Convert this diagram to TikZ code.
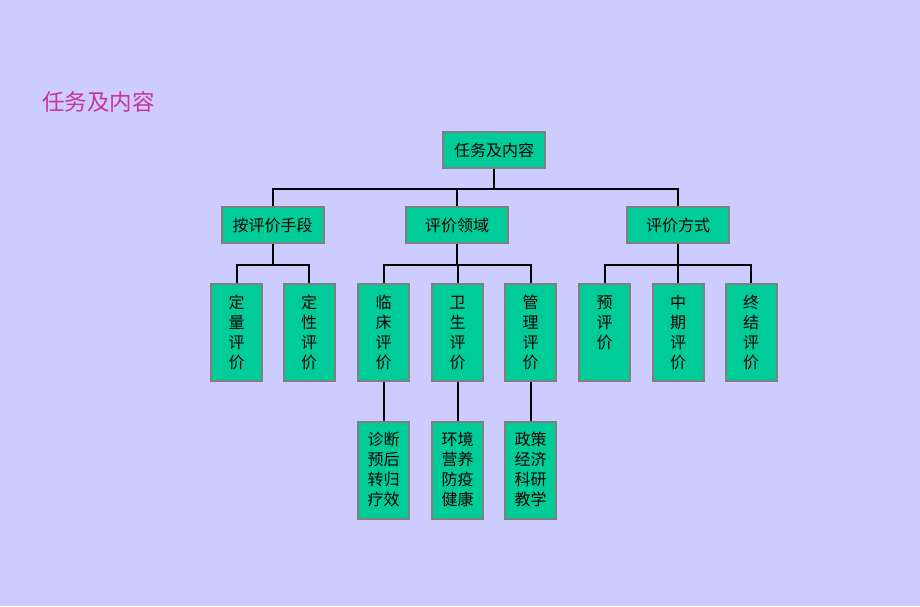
\documentclass[tikz,border=0pt]{standalone}
\usepackage{fontspec}
\setmainfont{Noto Sans CJK SC}
\usetikzlibrary{positioning}

\definecolor{bgblue}{HTML}{CCCCFF}
\definecolor{boxgreen}{HTML}{00CC99}
\definecolor{titlepink}{HTML}{CC3399}
\definecolor{boxrim}{HTML}{808080}

\begin{document}
\begin{tikzpicture}[x=1pt, y=-1pt, line width=2pt,
	box/.style={draw=boxrim, fill=boxgreen, inner sep=0pt, font=\fontsize{16}{20}\selectfont},
	wide/.style={box, minimum width=102pt, minimum height=36pt},
	tall/.style={box, anchor=north, text width=51pt, align=center, text height=24pt, text depth=73pt},
	leaf/.style={box, anchor=north, text width=51pt, align=center, text height=23pt, text depth=74pt},
	bus/.style={to path={-- ++(0,#1) -| (\tikztotarget)}}]

	\fill[bgblue] (0,0) rectangle (920,606);

	\node[anchor=west, inner sep=0pt, text=titlepink, font=\fontsize{22.5}{27}\selectfont]	(title)	at	(41, 102)	{任务及内容};

	\node[wide]	(task)	at	(494, 150)	{任务及内容};
	\node[wide]	(means)	at	(272.5, 225)	{按评价手段};
	\node[wide]	(field)	at	(457, 225)	{评价领域};
	\node[wide]	(mode)	at	(678, 225)	{评价方式};

	\node[tall]	(quant)	at	(236.5, 283)	{定\\量\\评\\价};
	\node[tall]	(qual)	at	(309, 283)	{定\\性\\评\\价};
	\node[tall]	(clin)	at	(383.5, 283)	{临\\床\\评\\价};
	\node[tall]	(hyg)	at	(457.5, 283)	{卫\\生\\评\\价};
	\node[tall]	(mgmt)	at	(530.5, 283)	{管\\理\\评\\价};
	\node[tall]	(pre)	at	(604.5, 283)	{预\\评\\价};
	\node[tall]	(mid)	at	(678, 283)	{中\\期\\评\\价};
	\node[tall]	(fin)	at	(751, 283)	{终\\结\\评\\价};

	\node[leaf]	(diag)	at	(383.5, 421)	{诊断\\预后\\转归\\疗效};
	\node[leaf]	(envi)	at	(457.5, 421)	{环境\\营养\\防疫\\健康};
	\node[leaf]	(poli)	at	(530.5, 421)	{政策\\经济\\科研\\教学};

	\path	(task.south)	edge[bus=20]	(means.north)
			(task.south)	edge[bus=20]	(field.north)
			(task.south)	edge[bus=20]	(mode.north)
			(means.south)	edge[bus=21]	(quant.north)
			(means.south)	edge[bus=21]	(qual.north)
			(field.south)	edge[bus=21]	(clin.north)
			(field.south)	edge[bus=21]	(hyg.north)
			(field.south)	edge[bus=21]	(mgmt.north)
			(mode.south)	edge[bus=21]	(pre.north)
			(mode.south)	edge[bus=21]	(mid.north)
			(mode.south)	edge[bus=21]	(fin.north)
			(clin)	edge	(diag)
			(hyg)	edge	(envi)
			(mgmt)	edge	(poli);

\end{tikzpicture}
\end{document}
